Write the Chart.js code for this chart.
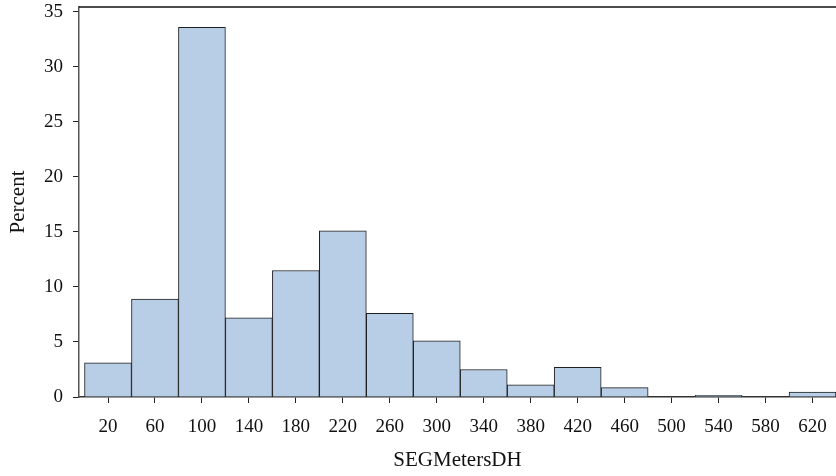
<!DOCTYPE html>
<html lang="en">
<head>
    <meta charset="UTF-8">
    <title>SEGMetersDH histogram</title>
    <style>
        body { margin: 0; background: #fff; }
    </style>
</head>
<body>
    <canvas id="myChart" width="836" height="476"></canvas>

    <script src="https://cdn.jsdelivr.net/npm/chart.js"></script>
    <script>
    // bin midpoints (bin width 40) and percent of observations per bin
    const binCenters = [20, 60, 100, 140, 180, 220, 260, 300, 340, 380, 420, 460, 500, 540, 580, 620];
    const percent = [3.1, 8.9, 33.6, 7.2, 11.5, 15.1, 7.6, 5.1, 2.5, 1.1, 2.7, 0.85, 0, 0.15, 0, 0.45];
    const yTicks = [0, 5, 10, 15, 20, 25, 30, 35];

    const serif = 'Liberation Serif';

    // line along the top of the plot area
    const topLine = {
        id: 'topLine',
        afterDraw(chart) {
            const a = chart.chartArea;
            const c = chart.ctx;
            c.save();
            c.strokeStyle = '#111';
            c.lineWidth = 1.5;
            c.beginPath();
            c.moveTo(a.left, a.top);
            c.lineTo(a.right, a.top);
            c.stroke();
            c.restore();
        }
    };

    const ctx = document.getElementById('myChart');
    new Chart(ctx, {
        type: 'bar',
        data: {
            datasets: [{
                data: binCenters.map((x, i) => ({ x: x, y: percent[i] })),
                backgroundColor: '#b8cde6',
                borderColor: '#1e1e1e',
                borderWidth: 1,
                barPercentage: 1,
                categoryPercentage: 1
            }]
        },
        options: {
            responsive: false,
            animation: false,
            layout: { padding: { top: 7, right: 0, left: 0, bottom: 0 } },
            plugins: {
                legend: { display: false },
                tooltip: { enabled: false }
            },
            scales: {
                x: {
                    type: 'linear',
                    offset: false,
                    min: -4.7,
                    max: 640,
                    afterBuildTicks: s => { s.ticks = binCenters.map(v => ({ value: v })); },
                    afterFit: s => { s.height = 79; s.paddingLeft = 0; s.paddingRight = 0; },
                    grid: { offset: false, drawOnChartArea: false, drawTicks: true, tickLength: 6, color: '#222' },
                    border: { display: true, color: '#333', width: 1.5 },
                    ticks: { color: '#111', padding: 13, maxRotation: 0, font: { family: serif, size: 19 } },
                    title: {
                        display: true,
                        text: 'SEGMetersDH',
                        color: '#111',
                        padding: { top: 4, bottom: 3 },
                        font: { family: serif, size: 21 }
                    }
                },
                y: {
                    min: 0,
                    max: 35.45,
                    afterBuildTicks: s => { s.ticks = yTicks.map(v => ({ value: v })); },
                    afterFit: s => { s.width = 79; s.paddingTop = 0; s.paddingBottom = 0; },
                    grid: { drawOnChartArea: false, drawTicks: true, tickLength: 6, color: '#222' },
                    border: { display: true, color: '#555', width: 1.5 },
                    ticks: { color: '#111', padding: 10, font: { family: serif, size: 19 } },
                    title: {
                        display: true,
                        text: 'Percent',
                        color: '#111',
                        padding: { top: 6, bottom: 4 },
                        font: { family: serif, size: 21 }
                    }
                }
            }
        },
        plugins: [topLine]
    });
    </script>
</body>
</html>
